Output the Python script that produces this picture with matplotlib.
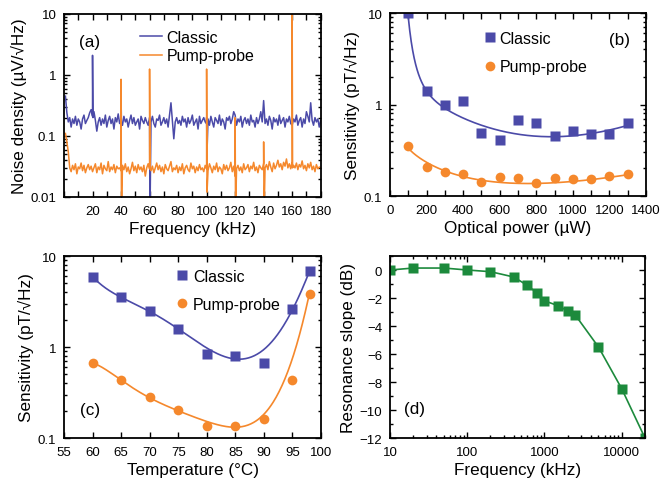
import numpy as np
import matplotlib
matplotlib.use("Agg")
from matplotlib import pyplot as plt
from matplotlib import ticker

plt.rcParams['font.family'] = ['Liberation Sans', 'DejaVu Sans']

BLUE = '#4b4aa8'
ORANGE = '#f5882c'
GREEN = '#1c8a3c'
LABEL_FS = 12.3

# ---- panel (a): noise spectra, 1 kHz steps from 1 to 180 kHz
freq_a = np.arange(1, 181)
# classic, in units of 0.01 uV/rtHz
classic_noise = [
    45, 24, 17, 20, 14, 19, 16, 21, 15, 19, 17, 13, 19, 22, 16, 18, 20, 24, 27, 21,
    25, 18, 12, 17, 20, 15, 19, 16, 22, 14, 18, 21, 16, 19, 13, 20, 17, 23, 16, 19,
    15, 21, 17, 19, 14, 18, 22, 16, 20, 15, 17, 19, 13, 21, 18, 16, 20, 17, 15, 19,
    17, 21, 16, 14, 19, 18, 22, 15, 17, 20, 16, 19, 14, 22, 35, 18, 9, 17, 20, 16,
    18, 15, 21, 17, 19, 14, 20, 16, 18, 22, 15, 17, 19, 13, 21, 16, 18, 20, 17, 16,
    19, 15, 21, 17, 14, 20, 18, 16, 22, 15, 19, 17, 13, 20, 18, 21, 16, 19, 25, 22,
    15, 19, 17, 21, 14, 18, 20, 16, 19, 15, 22, 17, 18, 14, 20, 16, 19, 25, 17, 38,
    16, 19, 15, 21, 18, 13, 20, 17, 19, 15, 22, 16, 18, 20, 14, 19, 17, 21, 16, 15,
    19, 17, 22, 15, 18, 20, 14, 19, 16, 25, 21, 17, 35, 18, 15, 20, 17, 19, 14, 18]
# pump-probe, in units of 0.001 uV/rtHz
pump_noise = [
    110, 80, 55, 30, 26, 33, 28, 35, 24, 31, 29, 36, 27, 33, 25, 30, 34, 28, 32, 26,
    30, 35, 25, 31, 28, 36, 24, 33, 29, 27, 38, 26, 31, 28, 34, 25, 32, 29, 30, 27,
    33, 28, 35, 26, 31, 24, 29, 37, 27, 32, 25, 34, 28, 31, 26, 33, 22, 30, 35, 29,
    27, 32, 25, 30, 36, 28, 33, 26, 31, 24, 34, 29, 27, 32, 38, 26, 30, 28, 33, 25,
    31, 27, 35, 24, 30, 33, 28, 26, 36, 29, 32, 25, 31, 27, 34, 28, 30, 26, 33, 29,
    27, 35, 30, 25, 32, 28, 36, 26, 31, 29, 24, 34, 28, 33, 27, 30, 37, 26, 32, 22,
    29, 33, 27, 31, 25, 35, 28, 30, 34, 26, 32, 29, 37, 27, 31, 25, 33, 30, 28, 36,
    30, 34, 28, 38, 31, 26, 36, 29, 33, 40, 31, 35, 28, 37, 32, 42, 30, 35, 29, 38,
    33, 30, 36, 28, 34, 31, 39, 29, 33, 27, 35, 30, 37, 28, 32, 26, 34, 29, 31, 30]
# spikes: frequency, peak value, dip value
classic_spike_f = [20, 40, 60, 100]
classic_spike_hi = [2.1, 0.45, 0.2, 0.2]
classic_spike_lo = [0.2, 0.15, 0.005, 0.055]
pump_spike_f = [40, 60, 100, 120, 140, 160]
pump_spike_hi = [0.85, 1.25, 1.25, 0.2, 0.08, 12]
pump_spike_lo = [0.005, 0.03, 0.012, 0.005, 0.005, 0.03]

# ---- panel (b): sensitivity vs optical power
power_b = [100, 200, 300, 400, 500, 600, 700, 800, 900, 1000, 1100, 1200, 1300]
classic_b = [10, 1.42, 0.98, 1.09, 0.49, 0.41, 0.68, 0.63, 0.45, 0.51, 0.48, 0.48, 0.63]
pump_b = [0.35, 0.207, 0.182, 0.172, 0.142, 0.16, 0.157, 0.139, 0.157, 0.155, 0.155, 0.164, 0.175]
# fitted curves, read at the same powers
classic_b_fit = [9.0, 1.41, 0.92, 0.70, 0.59, 0.52, 0.48, 0.46, 0.44, 0.45, 0.48, 0.52, 0.60]
pump_b_fit = [0.333, 0.234, 0.188, 0.163, 0.148, 0.141, 0.138, 0.138, 0.14, 0.144, 0.15, 0.158, 0.173]

# ---- panel (c): sensitivity vs temperature
temp_c = [60, 65, 70, 75, 80, 85, 90, 95, 98]
classic_c = [5.9, 3.5, 2.49, 1.58, 0.83, 0.80, 0.665, 2.6, 6.85]
pump_c = [0.665, 0.433, 0.284, 0.203, 0.134, 0.134, 0.161, 0.433, 3.8]
# fitted curves
temp_c_fit = [60, 65, 70, 75, 80, 82.5, 85, 87.5, 90, 92.5, 95, 98]
classic_c_fit = [5.93, 3.51, 2.45, 1.63, 0.9, 0.83, 0.79, 0.77, 0.87, 1.44, 2.6, 6.8]
pump_c_fit = [0.67, 0.43, 0.28, 0.20, 0.147, 0.136, 0.136, 0.147, 0.177, 0.29, 0.8, 3.9]

# ---- panel (d): resonance slope vs frequency
freq_d = [10, 20, 50, 100, 200, 400, 600, 800, 1000, 1500, 2000, 2500, 5000, 10000, 20000]
slope_d = [0, 0.14, 0.14, 0, -0.12, -0.5, -1.1, -1.64, -2.2, -2.55, -2.93, -3.21, -5.5, -8.48, -12]


def with_spikes(f, vals, sf, hi, lo):
    f = list(f) + list(sf) + [s + 0.3 for s in sf]
    v = list(vals) + list(hi) + list(lo)
    order = np.argsort(f, kind='stable')
    return np.array(f)[order], np.array(v)[order]


def style(ax):
    for sp in ax.spines.values():
        sp.set_linewidth(1.3)
    ax.tick_params(which='both', direction='in', top=True, right=True,
                   labelsize=9.5, width=1.0, pad=5.5)
    ax.tick_params(which='major', length=4.5)
    ax.tick_params(which='minor', length=2.5)


fig = plt.figure(figsize=(6.62, 4.85), dpi=100)
ax_a = fig.add_axes([0.0967, 0.5918, 0.3877, 0.3773])
ax_b = fig.add_axes([0.5891, 0.5938, 0.3867, 0.3773])
ax_c = fig.add_axes([0.0967, 0.0948, 0.3882, 0.3753])
ax_d = fig.add_axes([0.5891, 0.0948, 0.3852, 0.3753])

# (a)
fa, va = with_spikes(freq_a, np.array(classic_noise) * 0.01,
                     classic_spike_f, classic_spike_hi, classic_spike_lo)
fp, vp = with_spikes(freq_a, np.array(pump_noise) * 0.001,
                     pump_spike_f, pump_spike_hi, pump_spike_lo)
ax_a.plot(fa, va, color=BLUE, lw=1.1, label='Classic')
ax_a.plot(fp, vp, color=ORANGE, lw=1.1, label='Pump-probe')
ax_a.set_yscale('log')
ax_a.set_xlim(0, 180)
ax_a.set_ylim(0.01, 10)
ax_a.set_xticks(range(20, 181, 20))
ax_a.xaxis.set_minor_locator(ticker.MultipleLocator(10))
ax_a.set_yticks([0.01, 0.1, 1, 10])
ax_a.set_yticklabels(['0.01', '0.1', '1', '10'])
style(ax_a)
ax_a.tick_params(axis='x', which='minor', length=4.5)
ax_a.set_xlabel('Frequency (kHz)', fontsize=LABEL_FS, labelpad=3)
ax_a.set_ylabel('Noise density (\u00b5V/\u221aHz)', fontsize=LABEL_FS, labelpad=2.5)
ax_a.text(0.058, 0.852, '(a)', transform=ax_a.transAxes, fontsize=LABEL_FS, va='center')
ax_a.legend(loc='upper left', bbox_to_anchor=(0.296, 0.912), frameon=False,
            fontsize=11.5, handlelength=1.35, handletextpad=0.3,
            labelspacing=0.2, borderpad=0, borderaxespad=0)

# (b)
xs = np.linspace(100, 1300, 300)
for vals, fit, col, mk, lab in [(classic_b, classic_b_fit, BLUE, 's', 'Classic'),
                                (pump_b, pump_b_fit, ORANGE, 'o', 'Pump-probe')]:
    coef = np.polyfit(np.log10(power_b), np.log10(fit), 4)
    ax_b.plot(xs, 10 ** np.polyval(coef, np.log10(xs)), color=col, lw=1.2)
    ax_b.plot(power_b, vals, mk, color=col, ms=6.5 if mk == 's' else 7,
              mec='none', label=lab)
ax_b.set_yscale('log')
ax_b.set_xlim(0, 1400)
ax_b.set_ylim(0.1, 10)
ax_b.set_xticks(range(0, 1401, 200))
ax_b.xaxis.set_minor_locator(ticker.MultipleLocator(100))
ax_b.set_yticks([0.1, 1, 10])
ax_b.set_yticklabels(['0.1', '1', '10'])
style(ax_b)
ax_b.tick_params(axis='x', which='minor', length=4.5)
ax_b.set_xlabel('Optical power (\u00b5W)', fontsize=LABEL_FS, labelpad=3)
ax_b.set_ylabel('Sensitivity (pT/\u221aHz)', fontsize=LABEL_FS, labelpad=2.5)
ax_b.text(0.855, 0.858, '(b)', transform=ax_b.transAxes, fontsize=LABEL_FS, va='center')
ax_b.legend(loc='upper left', bbox_to_anchor=(0.371, 0.903), frameon=False,
            fontsize=11.5, handlelength=0.6, handletextpad=0.3,
            labelspacing=0.85, borderpad=0, borderaxespad=0)

# (c)
ts = np.linspace(60, 98, 300)
for vals, fit, col, mk, lab in [(classic_c, classic_c_fit, BLUE, 's', 'Classic'),
                                (pump_c, pump_c_fit, ORANGE, 'o', 'Pump-probe')]:
    coef = np.polyfit(temp_c_fit, np.log10(fit), 6)
    ax_c.plot(ts, 10 ** np.polyval(coef, ts), color=col, lw=1.2)
    ax_c.plot(temp_c, vals, mk, color=col, ms=6.5 if mk == 's' else 7,
              mec='none', label=lab)
ax_c.set_yscale('log')
ax_c.set_xlim(55, 100)
ax_c.set_ylim(0.1, 10)
ax_c.set_xticks(range(55, 101, 5))
ax_c.set_yticks([0.1, 1, 10])
ax_c.set_yticklabels(['0.1', '1', '10'])
style(ax_c)
ax_c.set_xlabel('Temperature (\u00b0C)', fontsize=LABEL_FS, labelpad=3)
ax_c.set_ylabel('Sensitivity (pT/\u221aHz)', fontsize=LABEL_FS, labelpad=2.5)
ax_c.text(0.062, 0.154, '(c)', transform=ax_c.transAxes, fontsize=LABEL_FS, va='center')
ax_c.legend(loc='upper left', bbox_to_anchor=(0.44, 0.93), frameon=False,
            fontsize=11.5, handlelength=0.6, handletextpad=0.4,
            labelspacing=0.8, borderpad=0, borderaxespad=0)

# (d)
ax_d.plot(freq_d, slope_d, 's-', color=GREEN, lw=1.2, ms=6.5, mec='none')
ax_d.set_xscale('log')
ax_d.set_xlim(10, 20000)
ax_d.set_ylim(-12, 1)
ax_d.set_yticks(range(-12, 1, 2))
ax_d.yaxis.set_minor_locator(ticker.MultipleLocator(1))
ax_d.set_xticks([10, 100, 1000, 10000])
ax_d.set_xticklabels(['10', '100', '1000', '10000'])
style(ax_d)
ax_d.set_xlabel('Frequency (kHz)', fontsize=LABEL_FS, labelpad=3)
ax_d.set_ylabel('Resonance slope (dB)', fontsize=LABEL_FS, labelpad=2.5)
ax_d.text(0.055, 0.16, '(d)', transform=ax_d.transAxes, fontsize=LABEL_FS, va='center')

fig.savefig('out.png', dpi=100)
